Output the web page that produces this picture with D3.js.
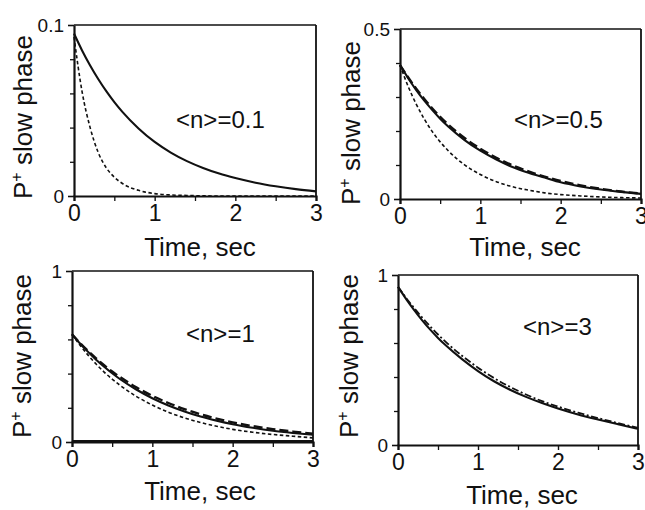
<!DOCTYPE html>
<html>
<head>
<meta charset="utf-8">
<script src="https://cdn.jsdelivr.net/npm/d3@7"></script>
<style>
  html, body { margin: 0; padding: 0; background: #fff; }
  svg { display: block; }
  text { font-family: "Liberation Sans", Arial, Helvetica, sans-serif; fill: #111; }
</style>
</head>
<body>
<svg id="chart" width="645" height="510"></svg>
<script>
// ---------------- data ----------------
const times = [0, 0.1, 0.2, 0.3, 0.4, 0.5, 0.6, 0.8, 1.0, 1.2, 1.4, 1.6, 1.8, 2.0, 2.25, 2.5, 2.75, 3.0];

const xTicks = [0, 1, 2, 3];
const xMinorTicks = [0, 0.5, 1, 1.5, 2, 2.5, 3];

const panelLabels = ["<n>=0.1", "<n>=0.5", "<n>=1", "<n>=3"];
const yMax = [0.1, 0.5, 1, 1];
const yTickLabels = [["0", "0.1"], ["0", "0.5"], ["0", "1"], ["0", "1"]];
const yMinorStep = [0.02, 0.1, 0.2, 0.2];

// <n>=0.1
const p1Solid  = [0.095, 0.0851, 0.0763, 0.0684, 0.0613, 0.0549, 0.0492, 0.0395, 0.0316, 0.0254, 0.0204, 0.0164, 0.0131, 0.0105, 0.0078, 0.0057, 0.0040, 0.0027];
const p1Dashed = [0.093, 0.061, 0.040, 0.0255, 0.0165, 0.0110, 0.0073, 0.0033, 0.0014, 0.0006, 0.0003, 0.0001, 0, 0, 0, 0, 0, 0];

// <n>=0.5
const p2Solid  = [0.394, 0.356, 0.321, 0.290, 0.262, 0.236, 0.213, 0.174, 0.142, 0.116, 0.094, 0.077, 0.063, 0.049, 0.037, 0.028, 0.021, 0.015];
const p2Long   = [0.394, 0.358, 0.325, 0.295, 0.267, 0.242, 0.219, 0.180, 0.148, 0.121, 0.099, 0.081, 0.066, 0.053, 0.040, 0.030, 0.022, 0.016];
const p2Dashed = [0.394, 0.332, 0.280, 0.236, 0.199, 0.168, 0.142, 0.101, 0.072, 0.051, 0.036, 0.026, 0.018, 0.013, 0.009, 0.006, 0.004, 0.003];

// <n>=1
const p3Solid  = [0.63, 0.576, 0.527, 0.481, 0.440, 0.402, 0.367, 0.307, 0.256, 0.214, 0.179, 0.149, 0.125, 0.104, 0.083, 0.066, 0.053, 0.042];
const p3Long   = [0.63, 0.579, 0.532, 0.489, 0.449, 0.412, 0.379, 0.320, 0.270, 0.228, 0.192, 0.162, 0.137, 0.115, 0.093, 0.075, 0.061, 0.049];
const p3Dashed = [0.63, 0.566, 0.508, 0.456, 0.409, 0.368, 0.331, 0.267, 0.216, 0.174, 0.141, 0.114, 0.092, 0.074, 0.057, 0.044, 0.034, 0.024];
const p3Zero   = [0.004, 0.004, 0.004, 0.004, 0.004, 0.004, 0.004, 0.004, 0.004, 0.004, 0.004, 0.004, 0.004, 0.004, 0.004, 0.004, 0.004, 0.004];

// <n>=3
const p4Solid  = [0.93, 0.86, 0.795, 0.735, 0.68, 0.63, 0.585, 0.505, 0.435, 0.375, 0.325, 0.283, 0.247, 0.215, 0.180, 0.150, 0.122, 0.095];
const p4Dashed = [0.93, 0.866, 0.807, 0.751, 0.699, 0.650, 0.605, 0.525, 0.455, 0.394, 0.342, 0.297, 0.258, 0.226, 0.190, 0.158, 0.129, 0.101];

// ---------------- layout ----------------
const panels = [
  { box: {l: 74,  r: 316, t: 25,  b: 196}, label: {x: 176, y: 128}, ytitle: {x: 32,  y: 117}, xtitle: {x: 200, y: 256},
    series: [ {v: p1Solid, s: "solid"}, {v: p1Dashed, s: "short"} ] },
  { box: {l: 400, r: 641, t: 29,  b: 199}, label: {x: 514, y: 128}, ytitle: {x: 360, y: 123}, xtitle: {x: 525, y: 256},
    series: [ {v: p2Dashed, s: "short"}, {v: p2Long, s: "long"}, {v: p2Solid, s: "solid"} ] },
  { box: {l: 72,  r: 313, t: 271, b: 442}, label: {x: 186, y: 342}, ytitle: {x: 31,  y: 356}, xtitle: {x: 200, y: 500},
    series: [ {v: p3Zero, s: "zero"}, {v: p3Dashed, s: "short"}, {v: p3Long, s: "long"}, {v: p3Solid, s: "solid"} ] },
  { box: {l: 398, r: 638, t: 275, b: 445}, label: {x: 523, y: 335}, ytitle: {x: 358, y: 356}, xtitle: {x: 522, y: 504},
    series: [ {v: p4Solid, s: "solid"}, {v: p4Dashed, s: "dashdot"} ] }
];

const styles = {
  solid:   {w: 2.1, dash: null},
  short:   {w: 1.6, dash: "3.5,2.5"},
  long:    {w: 2.4, dash: "9,4"},
  dashdot: {w: 1.8, dash: "7,2.5,2,2.5"},
  zero:    {w: 2.6, dash: null}
};

const svg = d3.select("#chart");

panels.forEach((p, i) => {
  const B = p.box;
  const x = d3.scaleLinear().domain([0, 3]).range([B.l, B.r]);
  const y = d3.scaleLinear().domain([0, yMax[i]]).range([B.b, B.t]);
  const g = svg.append("g");

  // frame (top & right thinner)
  g.append("line").attr("x1", B.l).attr("x2", B.r).attr("y1", B.t).attr("y2", B.t)
    .attr("stroke", "#111").attr("stroke-width", 1.6);
  g.append("line").attr("x1", B.r).attr("x2", B.r).attr("y1", B.t).attr("y2", B.b)
    .attr("stroke", "#111").attr("stroke-width", 1.8);

  // curves
  const line = d3.line().x((d, j) => x(times[j])).y(d => y(d)).curve(d3.curveMonotoneX);
  p.series.forEach(s => {
    const st = styles[s.s];
    g.append("path").datum(s.v).attr("d", line)
      .attr("fill", "none").attr("stroke", "#111")
      .attr("stroke-width", st.w)
      .attr("stroke-dasharray", st.dash);
  });

  // x axis
  const xAxis = d3.axisBottom(x).tickValues(xTicks).tickFormat(d3.format("d")).tickSize(5).tickPadding(4);
  const xa = g.append("g").attr("transform", `translate(0,${B.b})`).call(xAxis);
  xa.select(".domain").attr("stroke", "#111").attr("stroke-width", 2.2);
  xa.selectAll(".tick line").attr("stroke", "#111").attr("stroke-width", 1.4);
  xa.selectAll(".tick text").attr("font-size", 23).attr("fill", "#111")
    .attr("font-family", "'Liberation Sans', Arial, sans-serif");
  const xm = d3.axisBottom(x).tickValues(xMinorTicks.filter(v => !xTicks.includes(v))).tickFormat("").tickSize(5).tickSizeOuter(0);
  const xma = g.append("g").attr("transform", `translate(0,${B.b})`).call(xm);
  xma.select(".domain").remove();
  xma.selectAll(".tick line").attr("stroke", "#111").attr("stroke-width", 1.3);

  // y axis
  const yAxis = d3.axisLeft(y).tickValues([0, yMax[i]]).tickFormat((d, k) => yTickLabels[i][k]).tickSize(6).tickPadding(4).tickSizeOuter(0);
  const ya = g.append("g").attr("transform", `translate(${B.l},0)`).call(yAxis);
  ya.select(".domain").attr("stroke", "#111").attr("stroke-width", 2.2);
  ya.selectAll(".tick line").attr("stroke", "#111").attr("stroke-width", 1.6);
  ya.selectAll(".tick text").attr("font-size", 19).attr("fill", "#111")
    .attr("font-family", "'Liberation Sans', Arial, sans-serif");
  const minorVals = d3.range(1, Math.round(yMax[i] / yMinorStep[i])).map(k => k * yMinorStep[i]);
  const ym = d3.axisLeft(y).tickValues(minorVals).tickFormat("").tickSize(4).tickSizeOuter(0);
  const yma = g.append("g").attr("transform", `translate(${B.l},0)`).call(ym);
  yma.select(".domain").remove();
  yma.selectAll(".tick line").attr("stroke", "#111").attr("stroke-width", 1.3);

  // panel label
  g.append("text").attr("x", p.label.x).attr("y", p.label.y)
    .attr("font-size", 24).text(panelLabels[i]);

  // x title
  g.append("text").attr("x", p.xtitle.x).attr("y", p.xtitle.y)
    .attr("text-anchor", "middle").attr("font-size", 26).text("Time, sec");

  // y title
  const yt = g.append("text")
    .attr("transform", `translate(${p.ytitle.x},${p.ytitle.y}) rotate(-90)`)
    .attr("text-anchor", "middle").attr("font-size", 26);
  yt.append("tspan").text("P");
  yt.append("tspan").attr("font-size", 16).attr("dy", -10).text("+");
  yt.append("tspan").attr("dy", 10).text(" slow phase");
});
</script>
</body>
</html>
